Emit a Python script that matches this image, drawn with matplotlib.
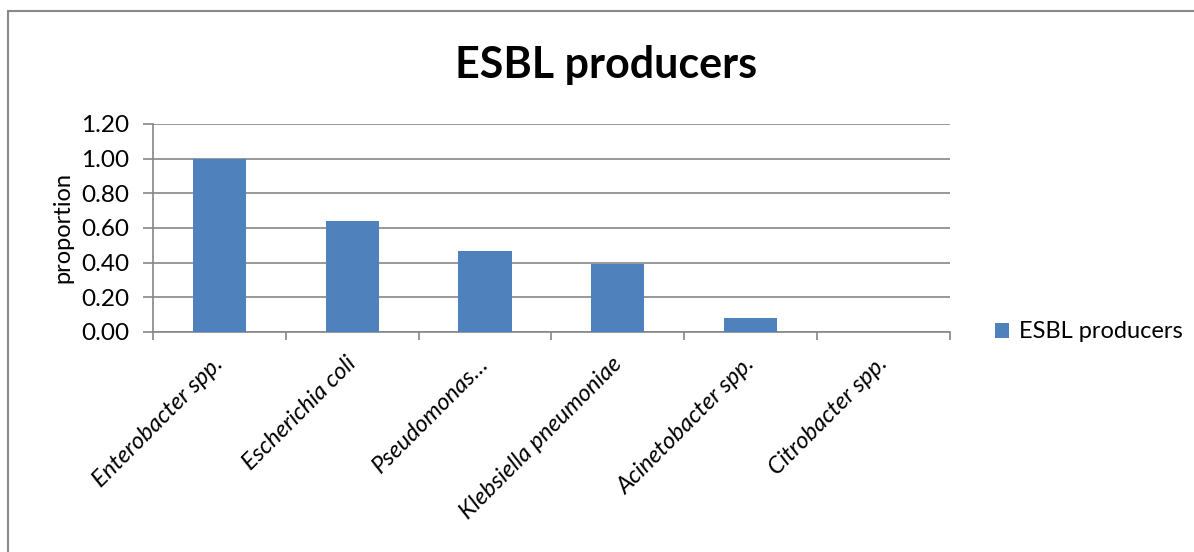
import numpy as np
import matplotlib
matplotlib.use("Agg")
from matplotlib import pyplot as plt
from matplotlib.patches import Rectangle

organisms = ["Enterobacter spp.", "Escherichia coli", "Pseudomonas\u2026",
             "Klebsiella pneumoniae", "Acinetobacter spp.", "Citrobacter spp."]
proportion = [1.00, 0.64, 0.47, 0.39, 0.08, 0.00]
yticks = [0.0, 0.2, 0.4, 0.6, 0.8, 1.0, 1.2]

plt.rcParams["font.family"] = ["Lato", "DejaVu Sans"]
bar_color = "#4F81BD"
grid_color = "#868686"

fig = plt.figure(figsize=(11.94, 5.52), dpi=100)
ax = fig.add_axes([0.1281, 0.3986, 0.6675, 0.3768])

x = np.arange(len(organisms))
ax.bar(x, proportion, width=0.4, color=bar_color, label="ESBL producers", zorder=3)

ax.set_xlim(-0.5, len(organisms) - 0.5)
ax.set_ylim(0, 1.2)
ax.set_yticks(yticks)
ax.set_yticklabels([f"{v:.2f}" for v in yticks], fontsize=17.5)
ax.yaxis.grid(True, color=grid_color, linewidth=1.2, zorder=0)

# category boundaries carry the tick marks, labels sit at the centres
ax.set_xticks(np.arange(len(organisms) + 1) - 0.5)
ax.set_xticklabels([])
ax.tick_params(axis="x", length=6, width=1.2, color=grid_color)
ax.tick_params(axis="y", length=7, width=1.2, color=grid_color, pad=10)
for xi, name in zip(x, organisms):
    ax.annotate(name, xy=(xi, 0), xycoords=("data", "axes fraction"),
                xytext=(-5, -15), textcoords="offset points",
                rotation=45, rotation_mode="anchor", ha="right", va="top",
                fontsize=17, style="italic")

for side in ["top", "right"]:
    ax.spines[side].set_visible(False)
for side in ["left", "bottom"]:
    ax.spines[side].set_color(grid_color)
    ax.spines[side].set_linewidth(1.2)

ax.set_ylabel("proportion", fontsize=17, labelpad=6)

fig.text(0.508, 0.882, "ESBL producers", ha="center", va="center",
         fontsize=31, fontweight="bold")

ax.legend(loc="center left", bbox_to_anchor=(1.03, 0.0), frameon=False,
          fontsize=17, handlelength=0.6, handleheight=0.6, handletextpad=0.4)

# outer chart frame
fig.patches.append(Rectangle((8 / 1194, -0.1), 1.2, 0.1 + 1 - 11 / 552,
                             transform=fig.transFigure, fill=False,
                             edgecolor="#898989", linewidth=1.5))

fig.savefig("out.png", dpi=100)
